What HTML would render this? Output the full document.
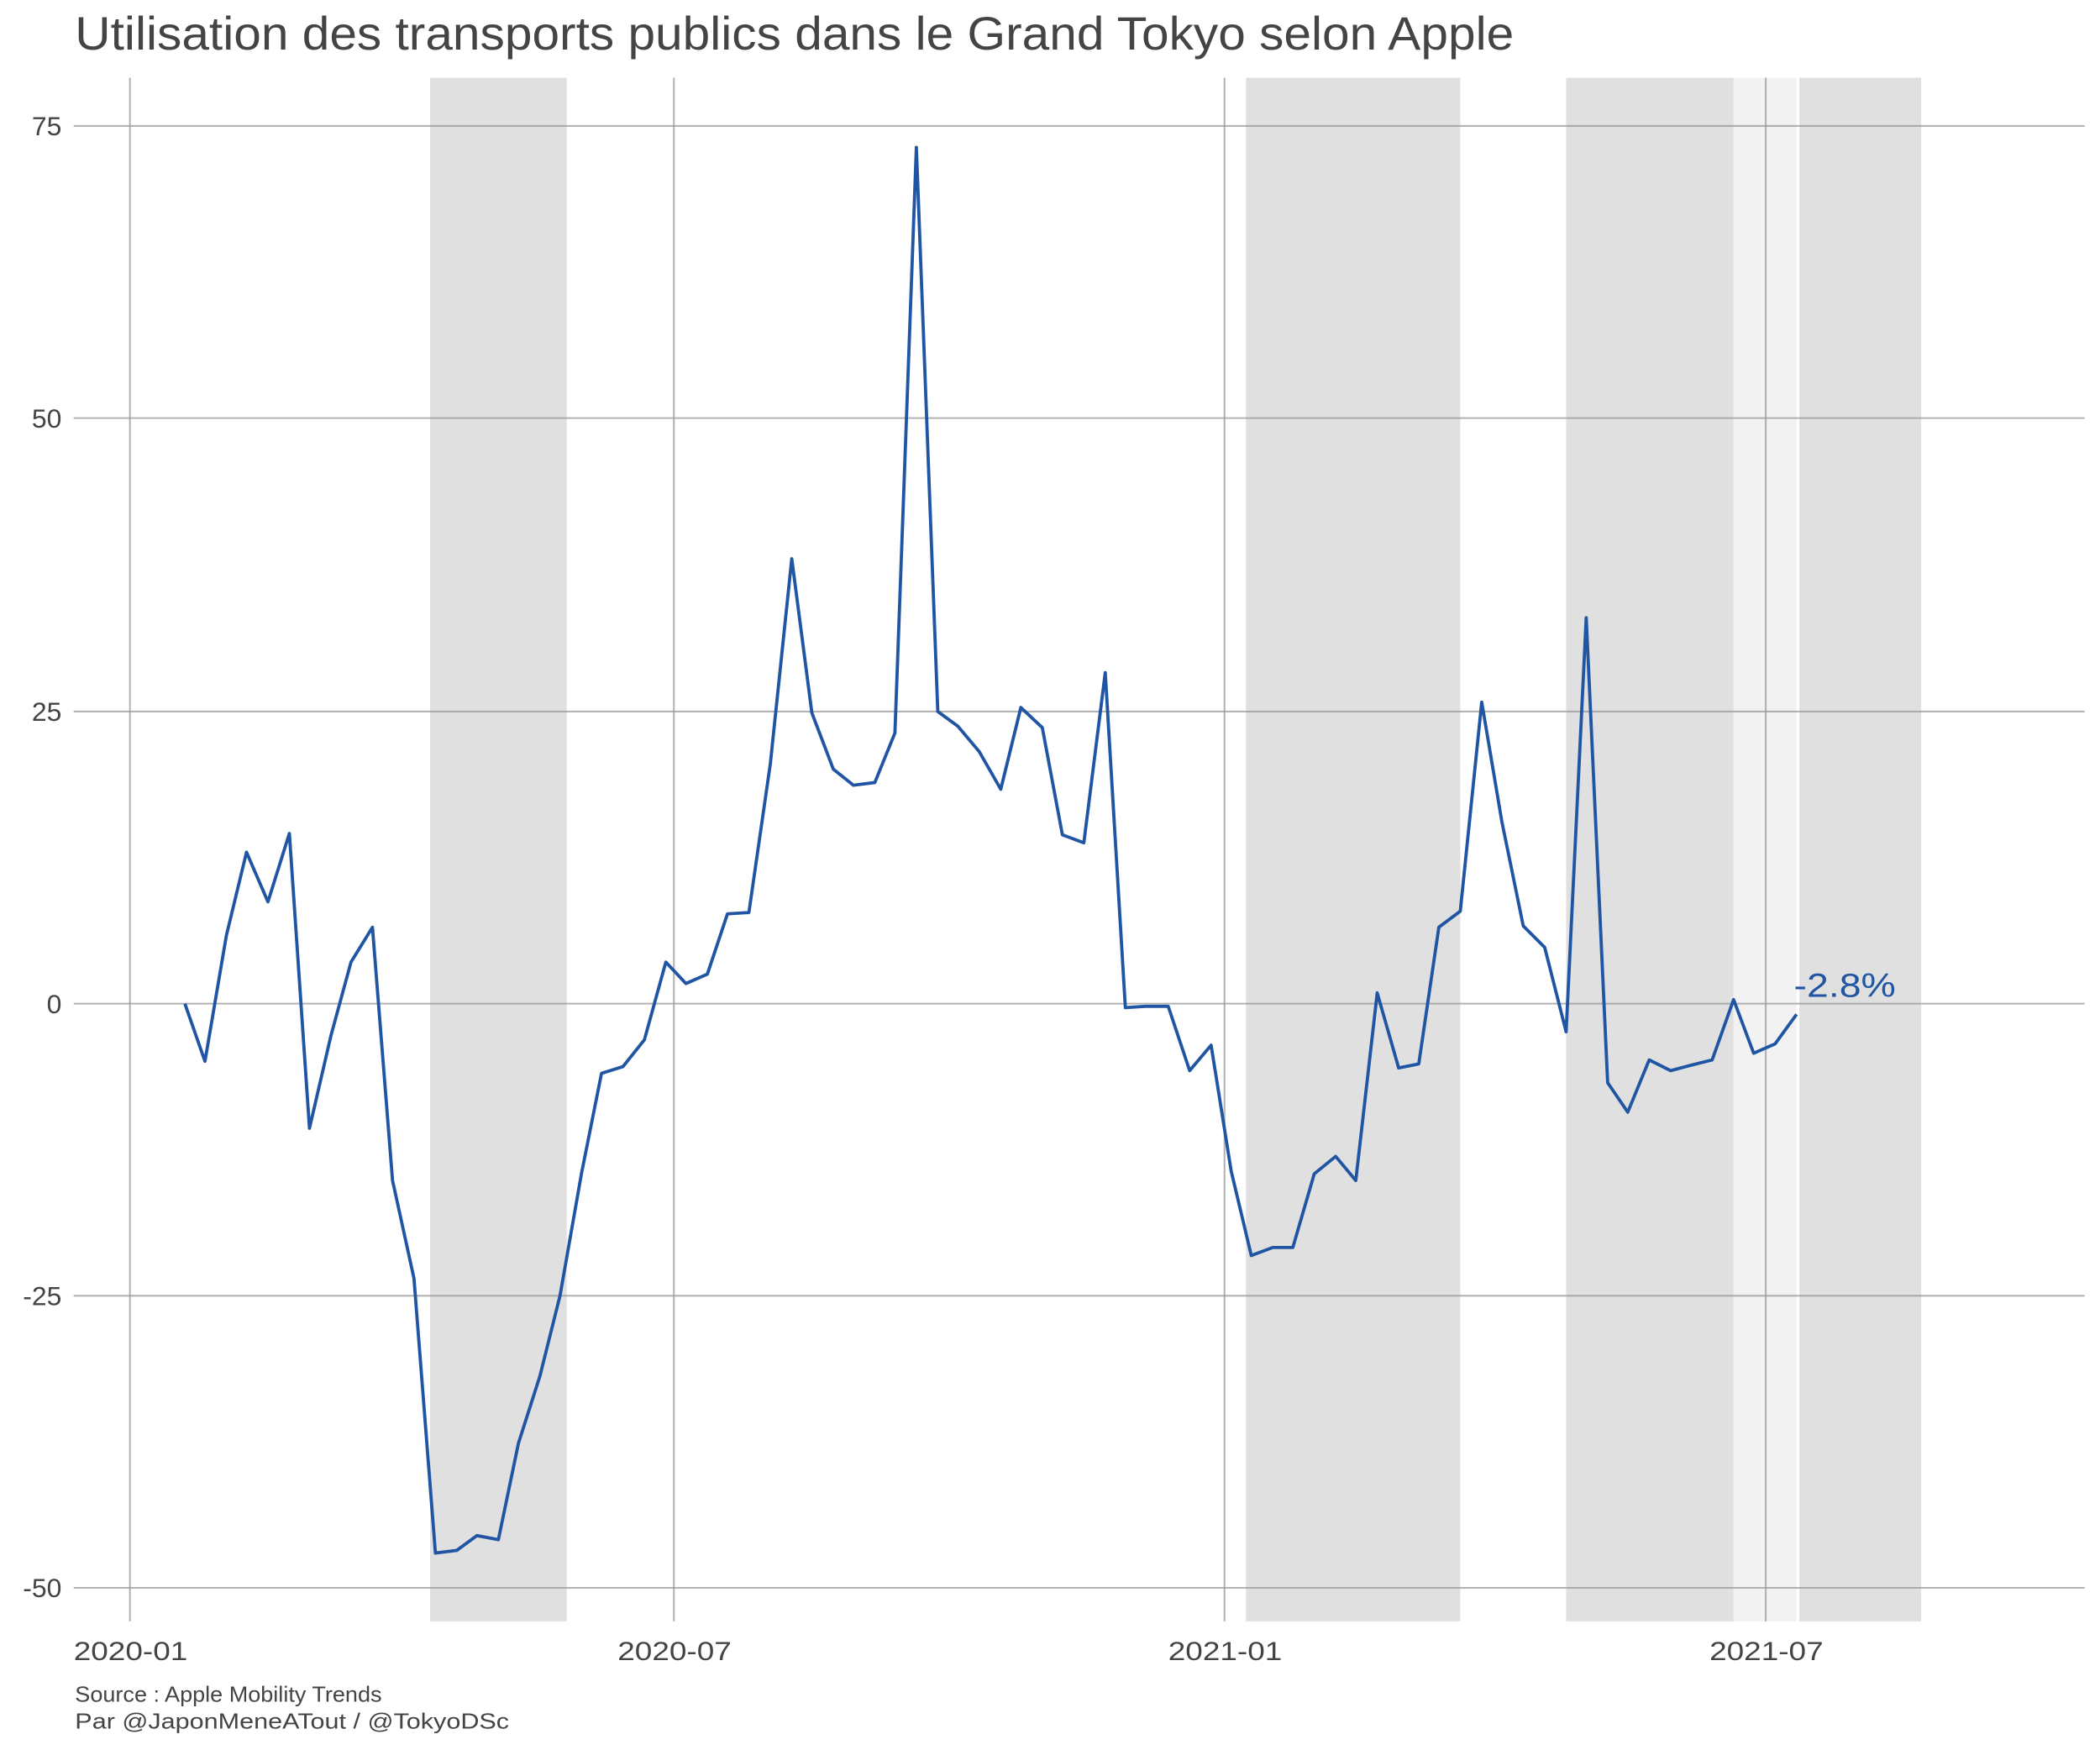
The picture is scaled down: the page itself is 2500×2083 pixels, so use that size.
<!DOCTYPE html>
<html><head><meta charset="utf-8"><style>html,body{margin:0;padding:0;background:#fff}svg{display:block}</style></head>
<body>
<svg width="2500" height="2083" viewBox="0 0 1567.5 1306" preserveAspectRatio="none" xmlns="http://www.w3.org/2000/svg" font-family="'Liberation Sans', sans-serif">
<rect width="1568" height="1306" fill="#fff"/>
<g fill="#e0e0e0">
<rect x="321" y="58" width="102" height="1152"/>
<rect x="930" y="58" width="160" height="1152"/>
<rect x="1169" y="58" width="125" height="1152"/>
<rect x="1343" y="58" width="91" height="1152"/>
</g>
<rect x="1294" y="58" width="47" height="1152" fill="#f2f2f2"/>
<g stroke="#999" stroke-opacity="0.75" stroke-width="1.3">
<line x1="55" x2="1556" y1="94" y2="94"/>
<line x1="55" x2="1556" y1="312" y2="312"/>
<line x1="55" x2="1556" y1="531" y2="531"/>
<line x1="55" x2="1556" y1="749" y2="749"/>
<line x1="55" x2="1556" y1="967" y2="967"/>
<line x1="55" x2="1556" y1="1185" y2="1185"/>
<line x1="97" x2="97" y1="58" y2="1210"/>
<line x1="503" x2="503" y1="58" y2="1210"/>
<line x1="914" x2="914" y1="58" y2="1210"/>
<line x1="1318" x2="1318" y1="58" y2="1210"/>
</g>
<polyline fill="none" stroke="#1f55a3" stroke-width="2.4" stroke-linejoin="round" points="138,749 153,792 169,698 184,636 200,673 216,622 231,842 247,773 262,718 278,692 293,881 309,954 325,1159 341,1157 356,1146 372,1149 387,1077 403,1027 418,967 434,876 449,801 465,796 481,776 497,718 512,734 528,727 543,682 559,681 575,570 591,417 606,532 622,574 637,586 653,584 668,547 684,110 700,531 715,542 731,561 747,589 762,528 778,543 793,623 809,629 825,502 840,752 855,751 872,751 888,799 904,780 919,874 934,937 950,931 965,931 981,876 997,863 1012,881 1028,741 1044,797 1059,794 1074,692 1090,680 1106,524 1121,613 1137,691 1153,707 1169,770 1184,461 1200,808 1215,830 1231,791 1247,799 1262,795 1278,791 1294,746 1309,786 1325,779 1341,757"/>
<text x="1339" y="744" font-size="25" fill="#1f55a3" textLength="76" lengthAdjust="spacingAndGlyphs">-2.8%</text>
<text x="56" y="37" font-size="35" fill="#444" textLength="1074" lengthAdjust="spacingAndGlyphs">Utilisation des transports publics dans le Grand Tokyo selon Apple</text>
<g font-size="20" fill="#444" text-anchor="end">
<text x="46" y="101">75</text>
<text x="46" y="319">50</text>
<text x="46" y="538">25</text>
<text x="46" y="756">0</text>
<text x="46" y="974">-25</text>
<text x="46" y="1192">-50</text>
</g>
<g font-size="20" fill="#444">
<text x="55" y="1239" textLength="85" lengthAdjust="spacingAndGlyphs">2020-01</text>
<text x="461" y="1239" textLength="85" lengthAdjust="spacingAndGlyphs">2020-07</text>
<text x="872" y="1239" textLength="85" lengthAdjust="spacingAndGlyphs">2021-01</text>
<text x="1276" y="1239" textLength="85" lengthAdjust="spacingAndGlyphs">2021-07</text>
</g>
<text x="56" y="1270" font-size="16" fill="#444" textLength="229" lengthAdjust="spacingAndGlyphs">Source : Apple Mobility Trends</text>
<text x="56" y="1290" font-size="16" fill="#444" textLength="324" lengthAdjust="spacingAndGlyphs">Par @JaponMeneATout / @TokyoDSc</text>
</svg>
</body></html>
